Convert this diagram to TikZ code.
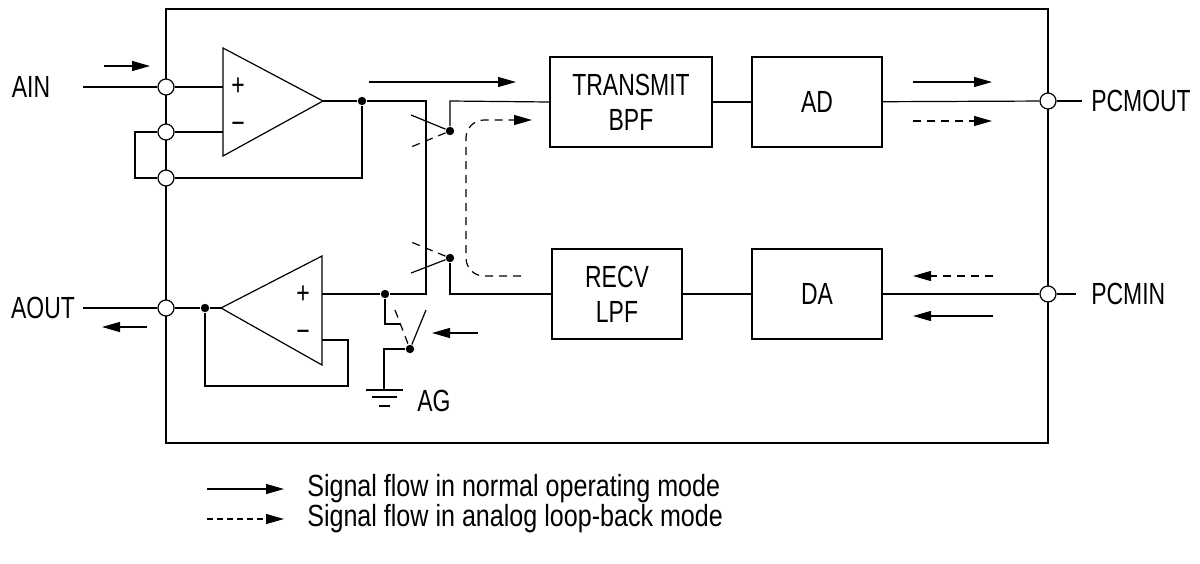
\documentclass[tikz,border=0pt]{standalone}
\usepackage{fontspec}
\setmainfont{Liberation Sans}[FakeStretch=0.75]
\newfontfamily\legendfont{Liberation Sans}[FakeStretch=0.82]
\usepackage{tikz}
\usetikzlibrary{arrows, arrows.meta, positioning, shapes.geometric, shapes}

\begin{document}
\begin{tikzpicture}[x=0.5pt, y=-0.5pt, line width=0.6pt,
  font=\fontsize{15.3}{17.5}\selectfont,
  pin/.style={circle, draw, fill=white, inner sep=0pt, minimum size=8pt},
  dot/.style={circle, fill, inner sep=0pt, minimum size=4.2pt},
  block/.style={draw, align=center, minimum height=45pt, inner sep=0pt},
  flow/.style={-{Triangle[length=9pt, width=5pt]}},
  loop/.style={dash pattern=on 4pt off 3pt},
  legloop/.style={dash pattern=on 3pt off 2pt}]
\useasboundingbox (0,0) rectangle (1200,563);

% frame
\draw (166,9) rectangle (1048,443);

% amplifiers
\draw (223,48) -- (223,156) -- (323,101) -- cycle;
\coordinate (P1) at (223,87);
\coordinate (N1) at (223,132);
\coordinate (O1) at (323,101);
\node at (238,87) {+};
\node at (238,128) {−};

\draw (322,256) -- (322,365) -- (221,308) -- cycle;
\coordinate (P2) at (322,294);
\coordinate (N2) at (322,340);
\coordinate (O2) at (221,308);
\node at (303,295) {+};
\node at (303,336) {−};

% nodes
\node[pin] (ain) at (166,87) {};
\node[pin] (neg) at (166,132) {};
\node[pin] (fbk) at (166,178) {};
\node[pin] (aout) at (166,308) {};
\node[pin] (pcmout) at (1048,101) {};
\node[pin] (pcmin) at (1048,294) {};

\node[dot] (d1) at (362,101) {};
\node[dot] (d2) at (385,294) {};
\node[dot] (d3) at (205,308) {};
\node[dot] (s1) at (450,131) {};
\node[dot] (s2) at (450,258) {};
\node[dot] (s3) at (410,349) {};

\node[block, minimum width=81pt] (tx) at (631,102) {TRANSMIT\\BPF};
\node[block, minimum width=65pt] (ad) at (817,102) {AD};
\node[block, minimum width=65pt] (rx) at (617,294) {RECV\\LPF};
\node[block, minimum width=65pt] (da) at (817,294) {DA};

\node (AIN) at (31,87) {AIN};
\node (AOUT) at (43,308) {AOUT};
\node[anchor=west] (PCMOUT) at (1084,101) {PCMOUT};
\node[anchor=west] (PCMIN) at (1084,294) {PCMIN};
\node[anchor=west] (AG) at (410,401) {AG};

\coordinate (ainend) at (83,87);
\coordinate (aoutend) at (83,308);
\coordinate (pcmoutend) at (1082,101);
\coordinate (pcminend) at (1076,294);
\coordinate (gnd) at (384,390);

% wires
\draw [-] (ainend) -- (ain);
\draw [-] (ain) -- (P1);
\draw [-] (neg) -- (N1);
\draw [-] (neg.west) -- (135,132) -- (135,178) -- (fbk.west);
\draw [-] (O1) -- (d1);
\draw [-] (d1) -- (362,178) -- (fbk);
\draw [-] (d1) -- (426,101) -- (426,294) -- (d2);
\draw [-] (d2) -- (P2);
\draw [-] (N2) -- (348,340) -- (348,386) -- (205,386) -- (d3);
\draw [-] (O2) -- (d3);
\draw [-] (d3) -- (aout);
\draw [-] (aout) -- (aoutend);

\draw [-] (s1) -- (411,115);
\draw [loop] (s1) -- (411,147);
\draw [-] (s1) -- (450,101) -- (tx.west);
\draw [loop] (s2) -- (411,242);
\draw [-] (s2) -- (411,273);
\draw [-] (s2) -- (450,294) -- (rx.west);

\draw [-] (d2) -- (385,324) -- (400,324);
\draw [loop] (395,310) -- (s3);
\draw [-] (s3) -- (426,310);
\draw [-] (s3) -- (384,349) -- (gnd);
\draw [-] (366,390) -- (403,390);
\draw [-] (372,397) -- (397,397);
\draw [-] (379,406) -- (390,406);

\draw [-] (tx) -- (ad);
\draw [-] (ad) -- (pcmout);
\draw [-] (pcmout) -- (pcmoutend);
\draw [-] (rx) -- (da);
\draw [-] (da) -- (pcmin);
\draw [-] (pcmin) -- (pcminend);

% arrows
\draw [flow] (104,66) -- (150,66);
\draw [flow] (147,327) -- (102,327);
\draw [flow] (369,82) -- (516,82);
\draw [flow, loop, rounded corners=9pt] (521,276) -| (466,120) -- (532,120);
\draw [flow] (478,333) -- (432,333);
\draw [flow] (913,82) -- (992,82);
\draw [flow, loop] (913,121) -- (992,121);
\draw [flow, loop] (993,276) -- (913,276);
\draw [flow] (993,316) -- (913,316);

% legend
\node[anchor=west, font=\legendfont\fontsize{15.3}{17.5}\selectfont] (normal) at (300,489) {Signal flow in normal operating mode};
\node[anchor=west, font=\legendfont\fontsize{15.3}{17.5}\selectfont] (loopback) at (300,519) {Signal flow in analog loop-back mode};
\coordinate (normaltip) at (284,489);
\coordinate (loopbacktip) at (284,519);
\draw [flow] (207,489) -- (normaltip);
\draw [flow, legloop] (207,519) -- (loopbacktip);
\end{tikzpicture}
\end{document}
